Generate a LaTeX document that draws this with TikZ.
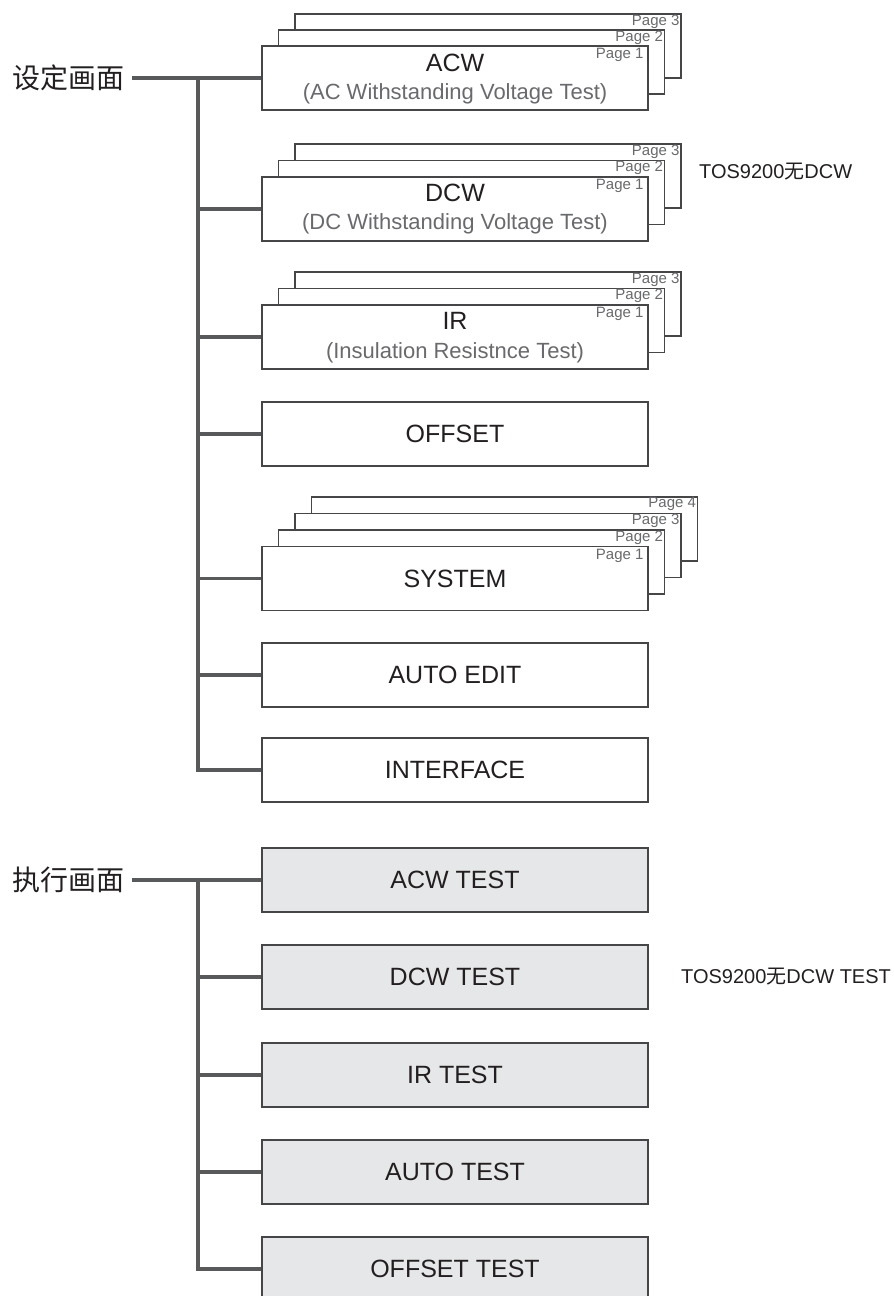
\documentclass[tikz,border=0pt]{standalone}
\usepackage{fontspec}
\setmainfont{Liberation Sans}
\newfontfamily\cjk{Noto Sans CJK SC}
\definecolor{lc}{RGB}{88,89,91}
\definecolor{bdr}{RGB}{70,70,72}
\definecolor{gfill}{RGB}{230,231,232}
\definecolor{txt}{RGB}{35,31,32}
\definecolor{gtxt}{RGB}{105,106,109}
\tikzset{
  pg/.style={draw=bdr, line width=1.3pt, fill=white, minimum width=386pt, minimum height=64pt, inner sep=0pt},
  mainbox/.style={pg, font=\fontsize{25}{28}\selectfont, text=txt},
  testbox/.style={mainbox, fill=gfill},
  plab/.style={anchor=north east, font=\fontsize{15}{16}\selectfont, text=gtxt, inner sep=0pt},
  ttl/.style={font=\fontsize{25}{28}\selectfont, text=txt, inner sep=0pt},
  sub/.style={font=\fontsize{22}{24}\selectfont, text=gtxt, inner sep=0pt},
  cjklab/.style={font=\cjk\fontsize{28}{30}\selectfont, text=txt, inner xsep=7pt, inner ysep=0pt},
  note/.style={font=\fontsize{20}{22}\selectfont, text=txt, inner sep=0pt, anchor=west},
  trunk/.style={draw=lc, line width=4pt},
  branch/.style={draw=lc, line width=3.4pt},
}
\begin{document}
\begin{tikzpicture}[x=1pt, y=-1pt]
\useasboundingbox (0,0) rectangle (894,1296);
% ---------- setting screens ----------
% ACW
\node[pg] (acw3) at (488,46) {};
\node[plab] (acw3l) at ([xshift=-2pt,yshift=-1pt]acw3.north east) {Page 3};
\node[pg] (acw2) at (471.5,62) {};
\node[plab] (acw2l) at ([xshift=-2pt,yshift=-1pt]acw2.north east) {Page 2};
\node[pg] (acw) at (455,78) {};
\node[plab] (acw1l) at ([xshift=-5pt,yshift=-3pt]acw.north east) {Page 1};
\node[ttl] (acwt) at (455,63) {ACW};
\node[sub] (acws) at (455,94) {(AC Withstanding Voltage Test)};
% DCW
\node[pg] (dcw3) at (488,176) {};
\node[plab] (dcw3l) at ([xshift=-2pt,yshift=-1pt]dcw3.north east) {Page 3};
\node[pg] (dcw2) at (471.5,192.5) {};
\node[plab] (dcw2l) at ([xshift=-2pt,yshift=-1pt]dcw2.north east) {Page 2};
\node[pg] (dcw) at (455,209) {};
\node[plab] (dcw1l) at ([xshift=-5pt,yshift=-3pt]dcw.north east) {Page 1};
\node[ttl] (dcwt) at (455,193) {DCW};
\node[sub] (dcws) at (455,224) {(DC Withstanding Voltage Test)};
\node[note] (dcwn) at (699,172) {TOS9200{\cjk 无}DCW};
% IR
\node[pg] (ir3) at (488,304) {};
\node[plab] (ir3l) at ([xshift=-2pt,yshift=-1pt]ir3.north east) {Page 3};
\node[pg] (ir2) at (471.5,320.5) {};
\node[plab] (ir2l) at ([xshift=-2pt,yshift=-1pt]ir2.north east) {Page 2};
\node[pg] (ir) at (455,337) {};
\node[plab] (ir1l) at ([xshift=-5pt,yshift=-3pt]ir.north east) {Page 1};
\node[ttl] (irt) at (455,321) {IR};
\node[sub] (irs) at (455,353) {(Insulation Resistnce Test)};
% OFFSET
\node[mainbox] (off) at (455,434) {OFFSET};
% SYSTEM
\node[pg] (sys4) at (504.5,529) {};
\node[plab] (sys4l) at ([xshift=-2pt,yshift=-1pt]sys4.north east) {Page 4};
\node[pg] (sys3) at (488,545.5) {};
\node[plab] (sys3l) at ([xshift=-2pt,yshift=-1pt]sys3.north east) {Page 3};
\node[pg] (sys2) at (471.5,562) {};
\node[plab] (sys2l) at ([xshift=-2pt,yshift=-1pt]sys2.north east) {Page 2};
\node[pg, font=\fontsize{25}{28}\selectfont, text=txt] (sys) at (455,578.5) {SYSTEM};
\node[plab] (sys1l) at ([xshift=-5pt,yshift=-3pt]sys.north east) {Page 1};
% AUTO EDIT / INTERFACE
\node[mainbox] (aed) at (455,675) {AUTO EDIT};
\node[mainbox] (ifc) at (455,770) {INTERFACE};
% label and tree
\node[cjklab] (set) at (68.5,78) {设定画面};
\coordinate (j1) at (198,78);
\draw[branch] (set.east) -- (acw.west);
\draw[trunk] (j1) |- (ifc.west);
\foreach \n in {dcw,ir,off,sys,aed}{
  \draw[branch] (\n.west -| j1) -- (\n.west);
}
% ---------- execution screens ----------
\node[testbox] (tacw) at (455,880) {ACW TEST};
\node[testbox] (tdcw) at (455,977) {DCW TEST};
\node[note] (tdcwn) at (681,977) {TOS9200{\cjk 无}DCW TEST};
\node[testbox] (tir) at (455,1075) {IR TEST};
\node[testbox] (tauto) at (455,1172) {AUTO TEST};
\node[testbox] (toff) at (455,1269) {OFFSET TEST};
\node[cjklab] (exe) at (68.5,880) {执行画面};
\coordinate (j2) at (198,880);
\draw[branch] (exe.east) -- (tacw.west);
\draw[trunk] (j2) |- (toff.west);
\foreach \n in {tdcw,tir,tauto}{
  \draw[branch] (\n.west -| j2) -- (\n.west);
}
\end{tikzpicture}
\end{document}
